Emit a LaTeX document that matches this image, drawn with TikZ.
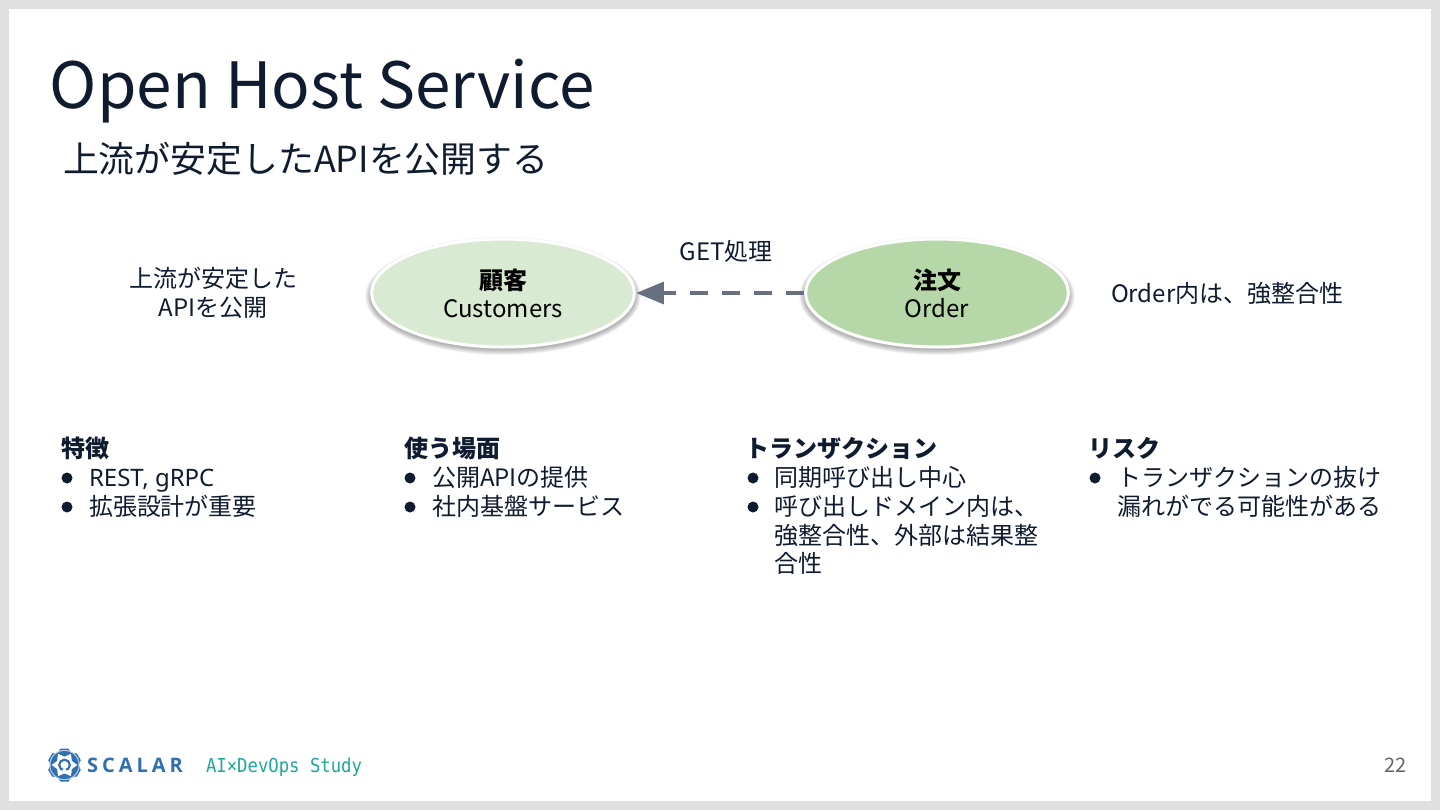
\documentclass[tikz,border=0pt]{standalone}
\usepackage{fontspec}
\usetikzlibrary{arrows.meta,shapes.geometric}
\setmainfont{Noto Sans CJK JP}
\newfontfamily\cjk{Noto Sans CJK JP}
\newfontfamily\latinf{Noto Sans}
\newfontfamily\monof{DejaVu Sans Mono}
\definecolor{ink}{HTML}{0F1C30}
\definecolor{framegray}{HTML}{E0E0E0}
\definecolor{arrowgray}{HTML}{667080}
\definecolor{lightgreen}{HTML}{D9EAD3}
\definecolor{midgreen}{HTML}{B6D7A8}
\definecolor{logoblue}{HTML}{2F6FB2}
\definecolor{logoteal}{HTML}{1FA79A}
\tikzset{
  x=0.75pt,y=-0.75pt,
  txt/.style={inner sep=0pt,outer sep=0pt,anchor=base west,text=ink,font=\fontsize{18pt}{21.75pt}\selectfont},
  ctr/.style={txt,anchor=base,align=center},
  head/.style={txt,font=\fontsize{18pt}{21.75pt}\selectfont\cjk\bfseries},
  bul/.style={circle,fill=ink,inner sep=0pt,minimum size=8.25pt},
  oval/.style={ellipse,draw=white,line width=2.25pt,minimum width=197pt,minimum height=81pt,inner sep=0pt,
    align=center,text=black,font=\fontsize{18pt}{21pt}\selectfont},
  blob/.style={fill=logoblue,draw=none},
}
\newcommand{\softshadow}[2]{%
  \foreach \k in {0,1,...,7}
    \fill[black,opacity=0.04] (#1,#2+3) ellipse ({99.5pt+\k*0.55pt} and {40.5pt+\k*0.55pt});
}
\begin{document}
\begin{tikzpicture}
\useasboundingbox (0,0) rectangle (1440,810);
\fill[framegray] (0,0) rectangle (1440,810);
\fill[white] (9,9) rectangle (1431,801);

\node[txt,font=\fontsize{47.85pt}{56pt}\selectfont,text=ink] (title) at (50,108) {Open Host Service};
\node[txt,font=\fontsize{26.9pt}{32pt}\selectfont] (sub) at (63,172) {上流が安定したAPIを公開する};

\softshadow{503}{293}
\softshadow{937}{293}
\node[oval,fill=lightgreen] (cust) at (503,293) {\textbf{顧客}\\Customers};
\node[oval,fill=midgreen] (order) at (937,293) {\textbf{注文}\\Order};
\draw[arrowgray,line width=3.7pt,dash pattern=on 13.5pt off 10.5pt,
  -{Triangle[length=21pt,width=16pt]}] (order) -- (cust);

\node[ctr] (getl) at (726,260) {GET処理};
\node[ctr] (up1) at (213,287) {上流が安定した};
\node[ctr] (up2) at (213,316) {APIを公開};
\node[txt] (ordl) at (1111,302) {Order内は、強整合性};

\node[head] (h1) at (61,457) {特徴};
\node[bul] (b11) at (67,478) {};
\node[txt] (t11) at (89,486) {\latinf REST, gRPC};
\node[bul] (b12) at (67,507) {};
\node[txt] (t12) at (89,515) {拡張設計が重要};

\node[head] (h2) at (404,457) {使う場面};
\node[bul] (b21) at (410,478) {};
\node[txt] (t21) at (432,486) {公開APIの提供};
\node[bul] (b22) at (410,507) {};
\node[txt] (t22) at (432,515) {社内基盤サービス};

\node[head] (h3) at (745.5,457) {トランザクション};
\node[bul] (b31) at (753,478) {};
\node[txt] (t31) at (774,486) {同期呼び出し中心};
\node[bul] (b32) at (753,507) {};
\node[txt] (t32) at (774,515) {呼び出しドメイン内は、};
\node[txt] (t33) at (774,544) {強整合性、外部は結果整};
\node[txt] (t34) at (774,572) {合性};

\node[head] (h4) at (1088.5,457) {リスク};
\node[bul] (b41) at (1095,478) {};
\node[txt] (t41) at (1117,486) {トランザクションの抜け};
\node[txt] (t42) at (1117,515) {漏れがでる可能性がある};

% logo mark
\foreach \a in {30,90,150,210,270,330}
  \fill[blob,rotate around={\a:(64.5,765)}] (76,758) -- (81,761) -- (81,769) -- (76,772) -- (73,765) -- cycle;
\draw[logoblue!35,line width=0.8pt] (64.5,765) circle (11pt);
\draw[logoblue,line width=1.6pt] (64.5,765) circle (4pt);
\fill[white] (64.5,771) circle (1.6pt);

\node[txt,text=logoblue,font=\fontsize{15pt}{18pt}\selectfont] (scalar) at (87,772) {\fontspec[LetterSpace=20]{Open Sans}\bfseries SCALAR};
\node[txt,text=logoteal,font=\fontsize{14.4pt}{17pt}\selectfont\monof] (study) at (206,772) {\scalebox{0.9}[1]{AI×DevOps Study}};
\node[txt,anchor=base east,text=black!60,font=\fontsize{15pt}{18pt}\selectfont] (pg) at (1407,772) {22};
\end{tikzpicture}
\end{document}
